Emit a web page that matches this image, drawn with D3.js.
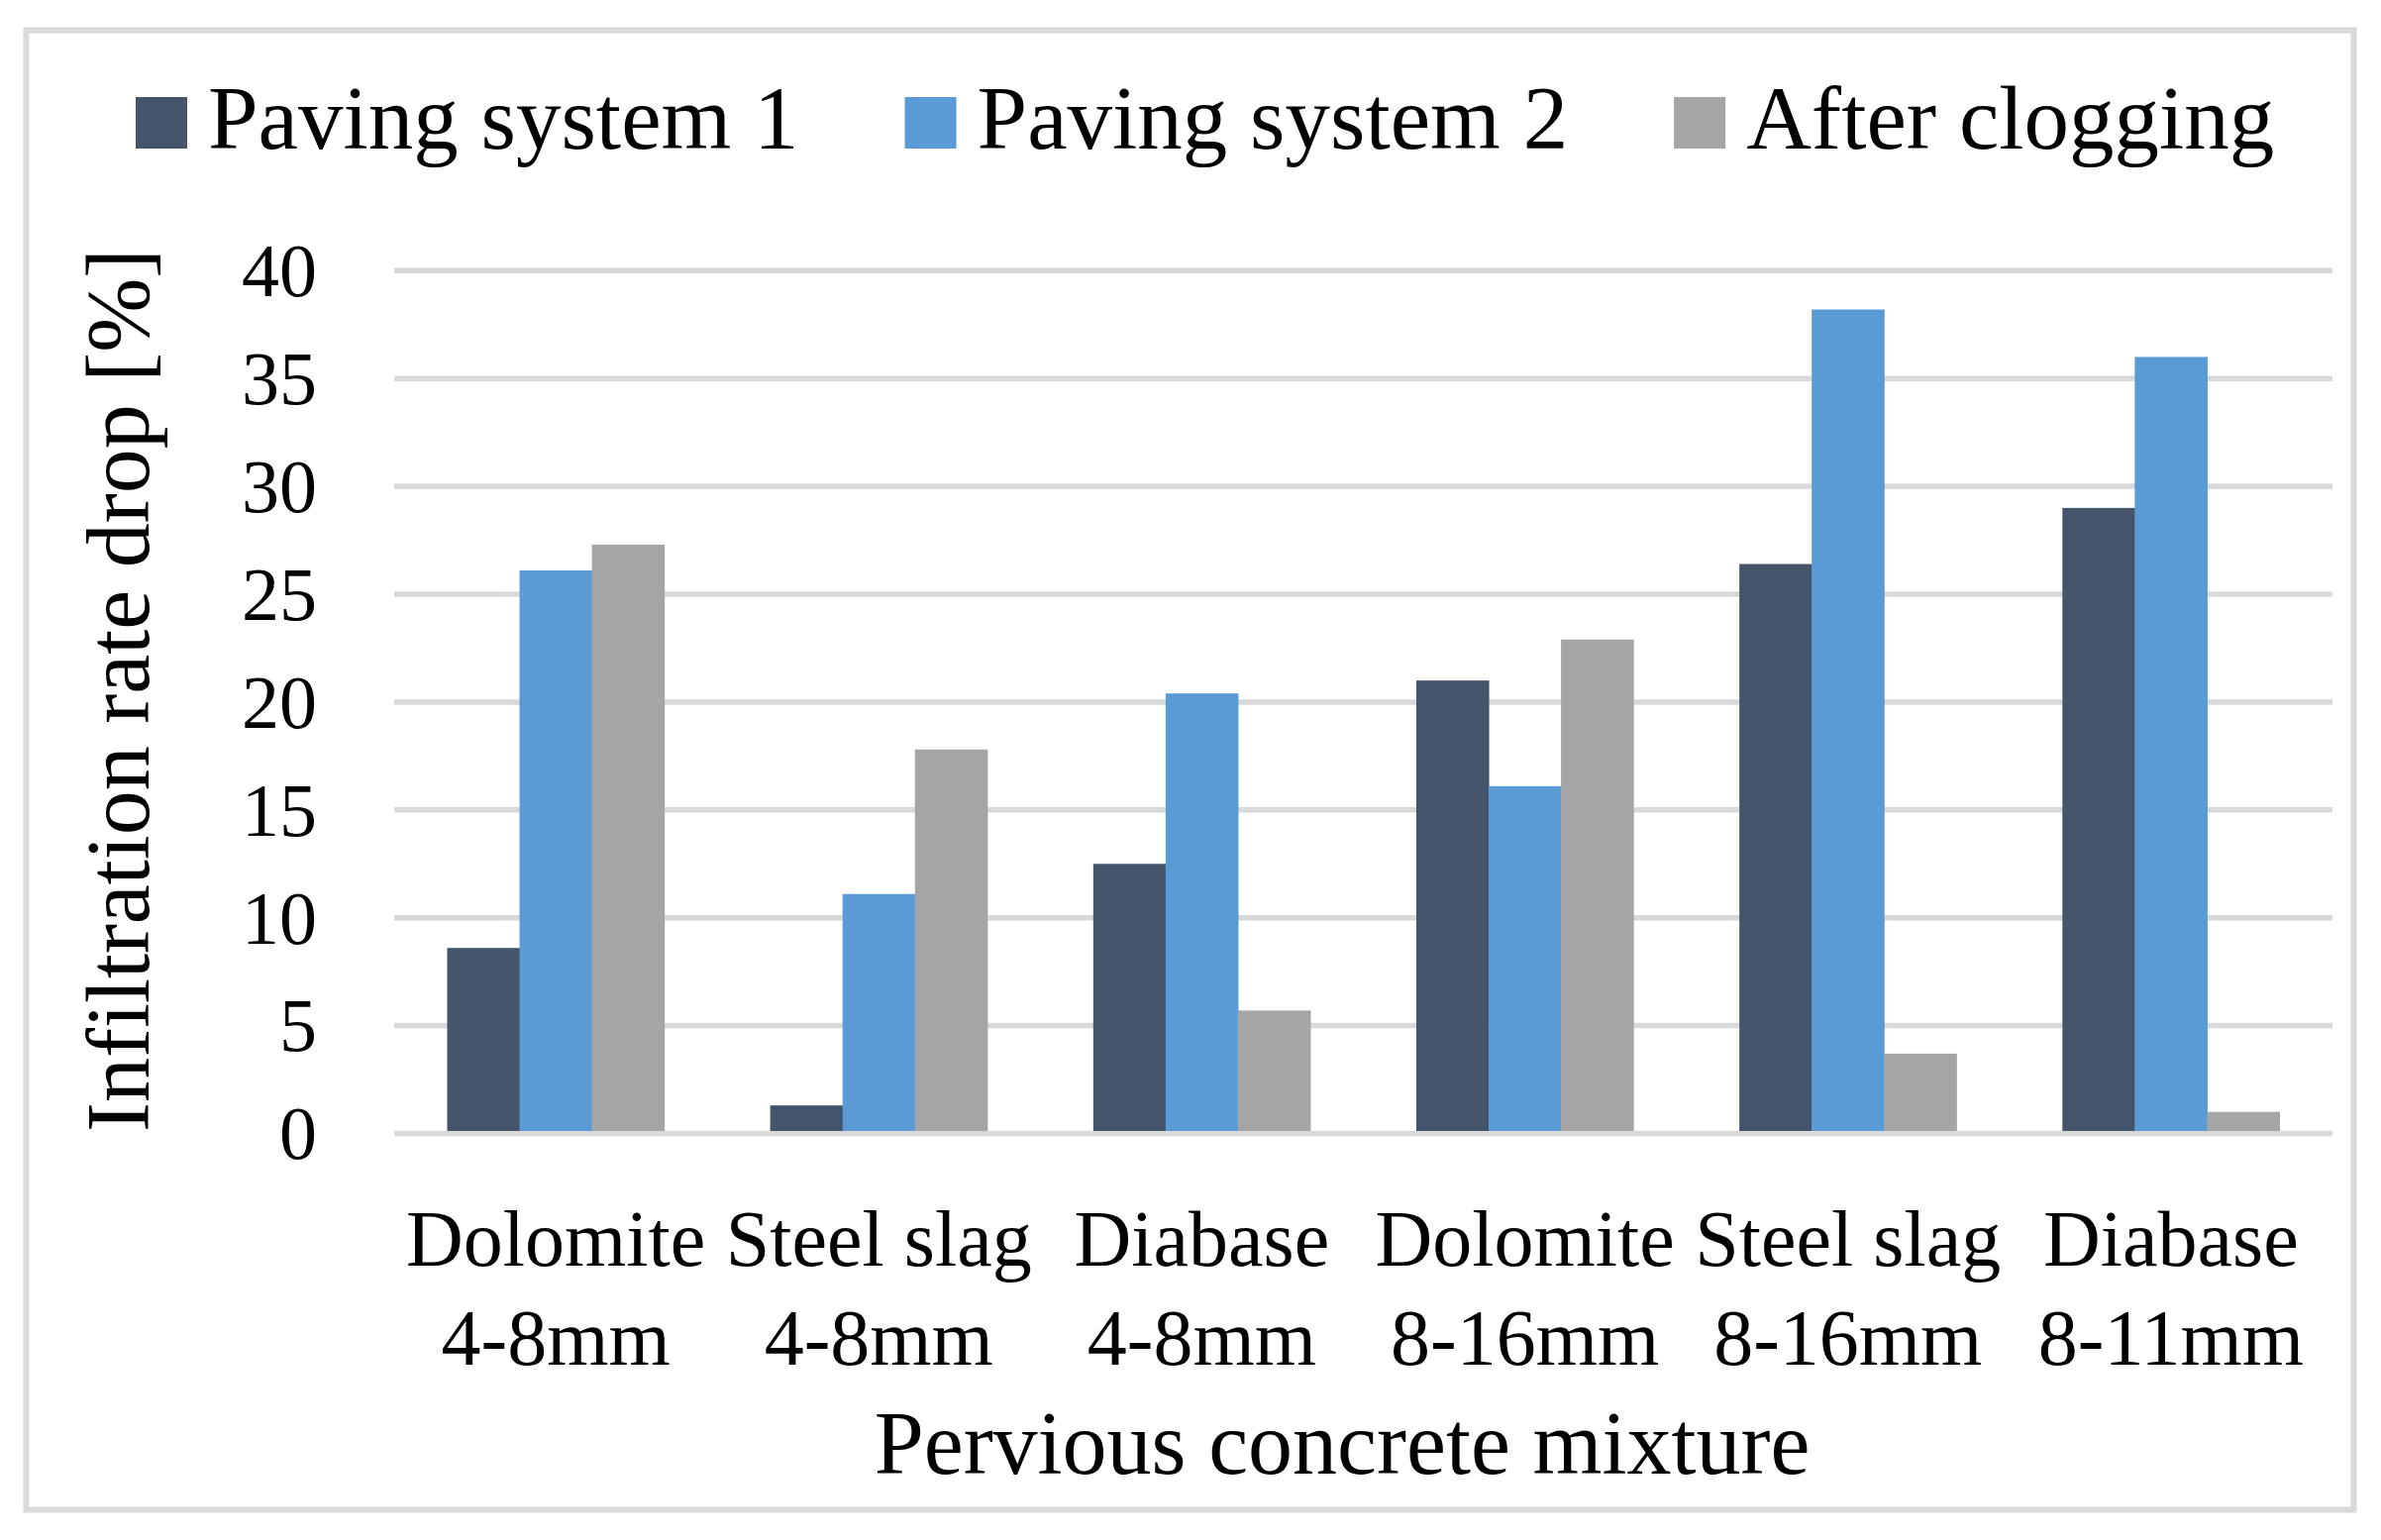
<!DOCTYPE html>
<meta charset="utf-8">
<style type="text/css">
    body{
      margin: 0;
      background: #fff;
    }
    svg{
      display: block;
    }
    text {
      font-family: "Liberation Serif", "Times New Roman", serif;
      fill: #000;
    }
</style>
<body>
<script src="https://cdn.jsdelivr.net/npm/d3@7"></script>
<script>

//categories, two lines each
var categories = ["Dolomite 4-8mm", "Steel slag 4-8mm", "Diabase 4-8mm",
                  "Dolomite 8-16mm", "Steel slag 8-16mm", "Diabase 8-11mm"];
var catLine1 = ["Dolomite", "Steel slag", "Diabase", "Dolomite", "Steel slag", "Diabase"];
var catLine2 = ["4-8mm", "4-8mm", "4-8mm", "8-16mm", "8-16mm", "8-11mm"];

var seriesNames = ["Paving system 1", "Paving system 2", "After clogging"];

//values
var paving1 = [8.6, 1.3, 12.5, 21.0, 26.4, 29.0];
var paving2 = [26.1, 11.1, 20.4, 16.1, 38.2, 36.0];
var afterClog = [27.3, 17.8, 5.7, 22.9, 3.7, 1.0];

var yTicks = [0, 5, 10, 15, 20, 25, 30, 35, 40];

var colors = ["#44546A", "#5B9BD5", "#A5A5A5"];

var width = 2404, height = 1555;

var svg = d3.select("body")
  .append("svg")
  .attr("width", width)
  .attr("height", height);

//outer frame
svg.append("rect")
  .attr("x", 26.5)
  .attr("y", 30.5)
  .attr("width", 2350)
  .attr("height", 1494)
  .attr("fill", "#fff")
  .attr("stroke", "#d9d9d9")
  .attr("stroke-width", 6);

var plot = {left: 398, right: 2355, top: 273.3, bottom: 1144.5};

var y = d3.scaleLinear()
  .domain([0, 40])
  .range([plot.bottom, plot.top]);

var x = d3.scaleBand()
  .domain(categories)
  .range([plot.left, plot.right])
  .paddingInner(0.328)
  .paddingOuter(0.164);

var xs = d3.scaleBand()
  .domain(seriesNames)
  .range([0, x.bandwidth()])
  .padding(0);

//gridlines
svg.append("g")
  .selectAll("line")
  .data(yTicks)
  .enter().append("line")
  .attr("x1", plot.left)
  .attr("x2", plot.right)
  .attr("y1", function(d){ return y(d); })
  .attr("y2", function(d){ return y(d); })
  .attr("stroke", "#d9d9d9")
  .attr("stroke-width", 5.5);

//y tick labels
svg.append("g")
  .selectAll("text")
  .data(yTicks)
  .enter().append("text")
  .attr("x", 320)
  .attr("y", function(d){ return y(d); })
  .attr("dy", "0.34em")
  .attr("text-anchor", "end")
  .style("font-size", "76px")
  .text(function(d){ return d; });

//bars
var rows = categories.map(function(c, i){
  return {cat: c, vals: [paving1[i], paving2[i], afterClog[i]]};
});

var groups = svg.append("g")
  .selectAll("g")
  .data(rows)
  .enter().append("g")
  .attr("transform", function(d){ return "translate(" + x(d.cat) + ",0)"; });

groups.selectAll("rect")
  .data(function(d){ return d.vals.map(function(v, j){ return {name: seriesNames[j], value: v, idx: j}; }); })
  .enter().append("rect")
  .attr("x", function(d){ return xs(d.name); })
  .attr("width", xs.bandwidth() + 0.5)
  .attr("y", function(d){ return y(d.value); })
  .attr("height", function(d){ return y(0) - y(d.value) - 2.5; })
  .attr("fill", function(d){ return colors[d.idx]; });

//x category labels
var xl = svg.append("g")
  .selectAll("text")
  .data(categories)
  .enter().append("text")
  .attr("text-anchor", "middle")
  .style("font-size", "80px");

xl.append("tspan")
  .attr("x", function(d){ return x(d) + x.bandwidth() / 2; })
  .attr("y", 1278)
  .text(function(d, i){ return catLine1[i]; });

xl.append("tspan")
  .attr("x", function(d){ return x(d) + x.bandwidth() / 2; })
  .attr("y", 1378)
  .text(function(d, i){ return catLine2[i]; });

//axis titles
svg.append("text")
  .attr("x", 1355)
  .attr("y", 1488)
  .attr("text-anchor", "middle")
  .style("font-size", "90px")
  .text("Pervious concrete mixture");

svg.append("text")
  .attr("transform", "translate(150," + 697 + ") rotate(-90)")
  .attr("text-anchor", "middle")
  .style("font-size", "90px")
  .text("Infiltration rate drop [%]");

//legend, laid out left to right
var legend = svg.append("g");
var lx = 137;
seriesNames.forEach(function(name, i){
  legend.append("rect")
    .attr("x", lx)
    .attr("y", 98)
    .attr("width", 52)
    .attr("height", 52)
    .attr("fill", colors[i]);

  var t = legend.append("text")
    .attr("x", lx + 73)
    .attr("y", 150)
    .style("font-size", "91px")
    .text(name);

  lx = lx + 73 + t.node().getComputedTextLength() + 107;
});

</script>
